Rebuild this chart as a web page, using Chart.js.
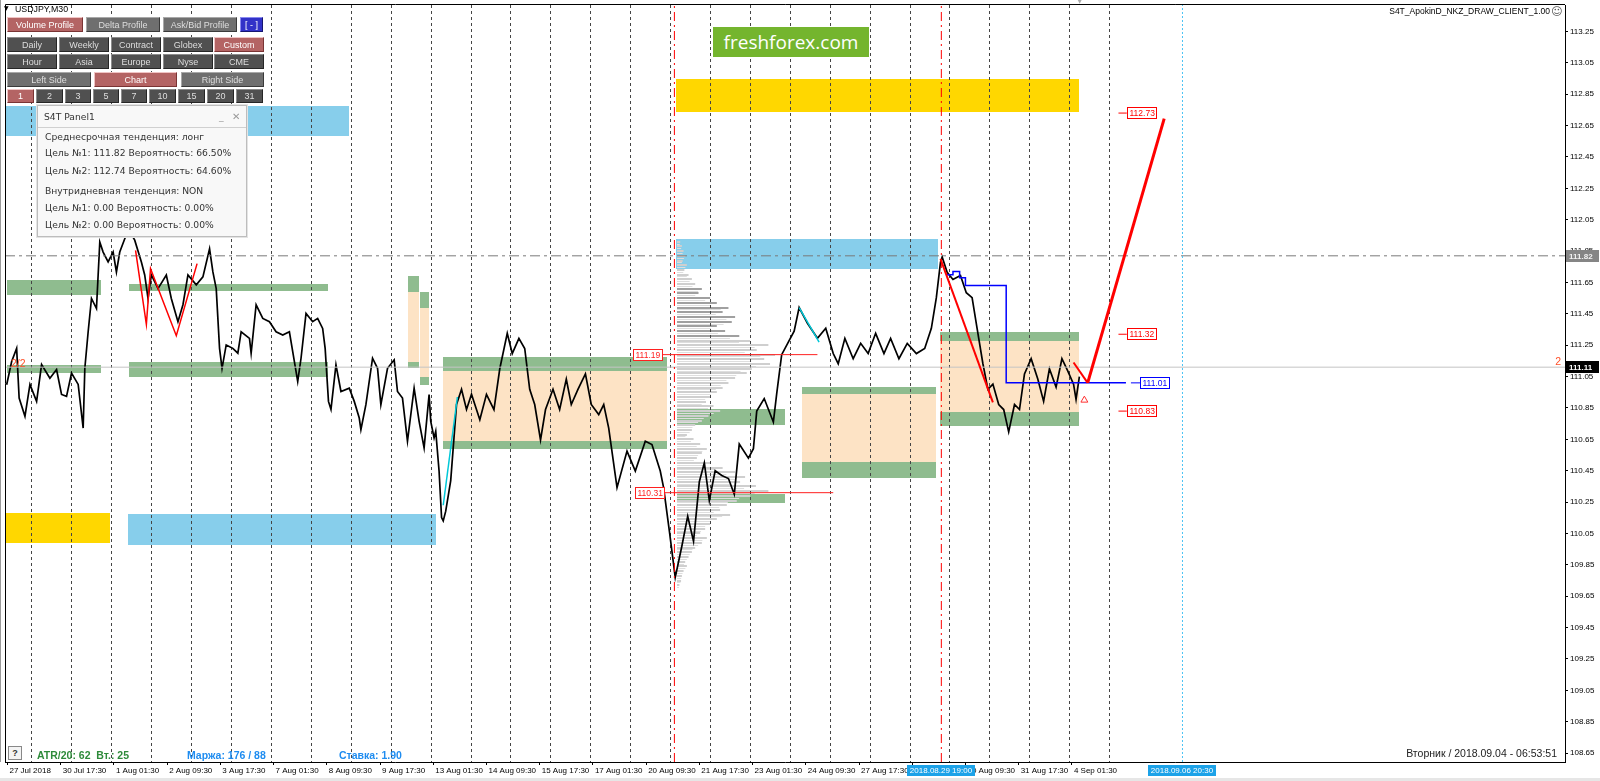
<!DOCTYPE html>
<html><head><meta charset="utf-8">
<script src="https://cdn.jsdelivr.net/npm/chart.js@4.4.1/dist/chart.umd.min.js"></script>
<style>
html,body{margin:0;padding:0;background:#fff;}
#wrap{position:relative;width:1600px;height:781px;overflow:hidden;background:#fff;}
canvas{position:absolute;left:0;top:0;}
.b{position:absolute;box-sizing:border-box;display:flex;align-items:center;justify-content:center;font:9px "Liberation Sans",Arial,sans-serif;color:#dedede;background:#505050;border:1px solid;border-color:#8c8c8c #262626 #262626 #8c8c8c;white-space:nowrap;}
.b.l{background:#6f6f6f;border-color:#a8a8a8 #3a3a3a #3a3a3a #a8a8a8;}
.b.p{background:#b46464;color:#fff;border-color:#f0c4c4 #7a3434 #7a3434 #f0c4c4;}
.b.u{background:#3232c8;color:#fff;border-color:#8a8af0 #161670 #161670 #8a8af0;}
#panel{position:absolute;left:37px;top:105px;width:210px;height:132px;box-sizing:border-box;background:#f8f8f8;border:1px solid #bdbdbd;box-shadow:0 0 0 1px #e4e4e4;font:9.2px "DejaVu Sans",sans-serif;color:#333;}
#panel .t{position:absolute;left:0;top:0;width:100%;height:21px;border-bottom:1px solid #d0d0d0;}
#panel div.ln{position:absolute;left:7px;height:12px;line-height:12px;white-space:nowrap;}
.txt{position:absolute;white-space:nowrap;line-height:12px;}
</style></head><body>
<div id="wrap">
<canvas id="c" width="1600" height="781"></canvas>

<div class="txt" style="left:4px;top:4px;font:6px 'DejaVu Sans';color:#000;">▼</div>
<div class="txt" style="left:15px;top:4px;font:8.8px 'Liberation Sans';color:#000;">USDJPY,M30</div>

<div class="b p" style="left:7px;top:17px;width:76px;height:15px;">Volume Profile</div>
<div class="b l" style="left:86px;top:17px;width:74px;height:15px;">Delta Profile</div>
<div class="b l" style="left:163px;top:17px;width:74px;height:15px;">Ask/Bid Profile</div>
<div class="b u" style="left:240px;top:17px;width:23px;height:15px;">[ - ]</div>

<div class="b" style="left:7px;top:37px;width:50px;height:15px;">Daily</div>
<div class="b" style="left:59px;top:37px;width:50px;height:15px;">Weekly</div>
<div class="b" style="left:111px;top:37px;width:50px;height:15px;">Contract</div>
<div class="b" style="left:163px;top:37px;width:50px;height:15px;">Globex</div>
<div class="b p" style="left:214px;top:37px;width:50px;height:15px;">Custom</div>

<div class="b" style="left:7px;top:54px;width:50px;height:15px;">Hour</div>
<div class="b" style="left:59px;top:54px;width:50px;height:15px;">Asia</div>
<div class="b" style="left:111px;top:54px;width:50px;height:15px;">Europe</div>
<div class="b" style="left:163px;top:54px;width:50px;height:15px;">Nyse</div>
<div class="b" style="left:214px;top:54px;width:50px;height:15px;">CME</div>

<div class="b l" style="left:7px;top:72px;width:84px;height:15px;">Left Side</div>
<div class="b p" style="left:94px;top:72px;width:83px;height:15px;">Chart</div>
<div class="b l" style="left:181px;top:72px;width:83px;height:15px;">Right Side</div>

<div class="b p" style="left:7px;top:89px;width:27px;height:14px;">1</div>
<div class="b" style="left:36px;top:89px;width:27px;height:14px;">2</div>
<div class="b" style="left:65px;top:89px;width:26px;height:14px;">3</div>
<div class="b" style="left:93px;top:89px;width:26px;height:14px;">5</div>
<div class="b" style="left:121px;top:89px;width:26px;height:14px;">7</div>
<div class="b" style="left:149px;top:89px;width:27px;height:14px;">10</div>
<div class="b" style="left:178px;top:89px;width:27px;height:14px;">15</div>
<div class="b" style="left:207px;top:89px;width:27px;height:14px;">20</div>
<div class="b" style="left:236px;top:89px;width:27px;height:14px;">31</div>

<div id="panel">
  <div class="t"></div>
  <div class="ln" style="top:5px;left:6px;">S4T Panel1</div>
  <div class="ln" style="top:5px;left:181px;color:#999;">_</div>
  <div class="ln" style="top:5px;left:194px;color:#999;font-size:10px;">✕</div>
  <div class="ln" style="top:25px;">Среднесрочная тенденция: лонг</div>
  <div class="ln" style="top:41px;">Цель №1: 111.82 Вероятность: 66.50%</div>
  <div class="ln" style="top:59px;">Цель №2: 112.74 Вероятность: 64.60%</div>
  <div class="ln" style="top:79px;">Внутридневная тенденция: NON</div>
  <div class="ln" style="top:96px;">Цель №1: 0.00 Вероятность: 0.00%</div>
  <div class="ln" style="top:113px;">Цель №2: 0.00 Вероятность: 0.00%</div>
</div>

<div class="txt" style="left:713px;top:27px;width:156px;height:30px;background:#74b52e;color:#fff;font:19px 'Open Sans',sans-serif;line-height:30px;text-align:center;">freshforex.com</div>

<div class="txt" style="left:1380px;top:6px;width:170px;text-align:right;font:8.5px 'Liberation Sans';color:#000;">S4T_ApokinD_NKZ_DRAW_CLIENT_1.00</div>
<div class="txt" style="left:1551px;top:5px;font:11px 'DejaVu Sans';color:#555;">☺</div>
<div class="txt" style="left:1077px;top:-3px;font:7px 'DejaVu Sans';color:#aaa;">▼</div>

<div class="txt" style="left:8px;top:746px;width:14px;height:14px;box-sizing:border-box;border:1px solid #888;background:#f4f4f4;font:bold 9px 'Liberation Sans';color:#333;text-align:center;line-height:12px;">?</div>
<div class="txt" style="left:37px;top:749px;font:bold 10.5px 'Liberation Sans';color:#2e8b3a;">ATR/20: 62&nbsp;&nbsp;Вт.: 25</div>
<div class="txt" style="left:187px;top:749px;font:bold 10.5px 'Liberation Sans';color:#1e8cf0;">Маржа: 176 / 88</div>
<div class="txt" style="left:339px;top:749px;font:bold 10.5px 'Liberation Sans';color:#1e8cf0;">Ставка: 1.90</div>
<div class="txt" style="left:1357px;top:747px;width:200px;text-align:right;font:10.5px 'Liberation Sans';color:#222;">Вторник&nbsp;/&nbsp;2018.09.04&nbsp;-&nbsp;06:53:51</div>
<div style="position:absolute;left:0;top:778px;width:1600px;height:3px;background:#e6e6e6;"></div>
</div>

<script>
// ---------------- DATA ----------------
const timeLabels = ['27 Jul 2018','30 Jul 17:30','1 Aug 01:30','2 Aug 09:30','3 Aug 17:30','7 Aug 01:30','8 Aug 09:30','9 Aug 17:30','13 Aug 01:30','14 Aug 09:30','15 Aug 17:30','17 Aug 01:30','20 Aug 09:30','21 Aug 17:30','23 Aug 01:30','24 Aug 09:30','27 Aug 17:30','29 Aug 01:30','30 Aug 09:30','31 Aug 17:30','4 Sep 01:30'];
const priceTicks = [108.65,108.85,109.05,109.25,109.45,109.65,109.85,110.05,110.25,110.45,110.65,110.85,111.05,111.25,111.45,111.65,111.85,112.05,112.25,112.45,112.65,112.85,113.05,113.25];

// USDJPY M30 close, [bar index, price]
const usdjpyClose = [[2,110.998],[8,111.146],[14,111.230],[17,110.913],[24,110.797],[30,111.000],[38,110.892],[44,111.127],[54,111.040],[62,111.095],[68,110.936],[74,110.924],[80,111.072],[88,111.000],[94,110.722],[96,111.103],[100,111.336],[104,111.548],[110,111.484],[114,111.908],[118,111.844],[124,111.781],[130,111.844],[134,111.717],[138,111.844],[144,111.929],[149,111.984],[156,111.920],[164,111.781],[168,111.698],[172,111.548],[176,111.698],[184,111.611],[194,111.698],[200,111.548],[208,111.400],[214,111.508],[220,111.698],[230,111.635],[238,111.686],[246,111.865],[250,111.717],[254,111.611],[258,111.230],[261,111.103],[266,111.252],[274,111.230],[280,111.199],[284,111.336],[294,111.294],[296,111.199],[302,111.508],[310,111.421],[318,111.400],[326,111.336],[334,111.315],[342,111.336],[346,111.209],[352,111.019],[356,111.167],[362,111.453],[370,111.400],[376,111.421],[382,111.357],[385,111.230],[389,110.892],[392,110.841],[398,111.125],[404,110.955],[414,110.976],[420,110.892],[426,110.786],[428,110.712],[434,110.871],[442,111.167],[448,111.103],[452,110.871],[460,111.103],[468,111.157],[472,110.955],[478,110.913],[484,110.638],[492,110.976],[498,110.765],[504,110.596],[510,110.935],[512,110.765],[516,110.659],[518,110.702],[522,110.448],[525,110.151],[527,110.130],[530,110.192],[536,110.387],[543,110.872],[549,110.969],[555,110.840],[561,110.937],[571,110.775],[579,110.937],[588,110.840],[595,111.100],[604,111.326],[610,111.197],[618,111.294],[625,111.229],[631,110.969],[637,110.872],[644,110.646],[650,110.840],[659,110.969],[667,110.840],[675,111.034],[681,110.872],[689,110.969],[698,111.067],[705,110.872],[714,110.808],[720,110.872],[726,110.722],[736,110.342],[748,110.575],[758,110.448],[770,110.638],[778,110.617],[788,110.448],[792,110.342],[799,110.063],[806,109.77],[814,109.97],[821,110.16],[828,110.00],[835,110.38],[841,110.50],[847,110.26],[854,110.45],[862,110.42],[870,110.40],[877,110.30],[883,110.62],[894,110.53],[900,110.59],[904,110.83],[913,110.91],[924,110.76],[928,110.94],[934,111.19],[942,111.27],[949,111.34],[955,111.49],[965,111.39],[977,111.294],[987,111.358],[996,111.197],[1002,111.132],[1010,111.294],[1020,111.164],[1029,111.262],[1038,111.197],[1047,111.326],[1057,111.197],[1065,111.294],[1075,111.164],[1085,111.262],[1096,111.197],[1106,111.229],[1114,111.358],[1120,111.553],[1125,111.78],[1127,111.812],[1133,111.715],[1140,111.669],[1149,111.695],[1156,111.585],[1163,111.553],[1169,111.358],[1176,111.132],[1182,110.969],[1188,111.002],[1195,110.872],[1201,110.840],[1207,110.698],[1214,110.872],[1220,110.840],[1226,111.067],[1234,111.164],[1242,111.034],[1249,110.892],[1256,111.100],[1264,110.983],[1271,111.164],[1278,111.086],[1285,111.002],[1288,110.905],[1292,111.05]];

// zones: [startBar, endBar, upperPrice, lowerPrice]
const blueZones   = [[0,414,112.778,112.587],[148,518,110.175,109.978],[807,1122,111.927,111.736]];
const yellowZones = [[0,126,110.181,109.990],[807,1292,112.946,112.740]];
const greenZones  = [[2,115,111.668,111.573],[2,115,111.125,111.072],[149,388,111.643,111.597],[149,388,111.146,111.050],
                     [485,498,111.690,111.590],[485,498,111.146,111.103],[499,510,111.590,111.489],[499,510,111.046,110.994],
                     [527,796,111.178,111.087],[527,796,110.642,110.591],[808,938,110.841,110.740],[808,938,110.300,110.245],
                     [958,1119,110.983,110.937],[958,1119,110.503,110.406],[1124,1292,111.333,111.274],[1124,1292,110.827,110.736]];
const peachZones  = [[485,498,111.590,111.146],[499,510,111.489,111.046],[527,796,111.087,110.642],[958,1119,110.937,110.503],[1124,1292,111.274,110.827]];

// volume profile (anchored at bar 808), levels from 111.91 downwards every 0.03, lengths in bars
const vpStartBar = 808, vpTopPrice = 111.91, vpStep = 0.03;
const vpLengths = [4,6,8,10,7,12,9,14,18,22,30,26,40,48,62,55,70,66,48,58,75,88,110,96,118,105,112,90,84,70,62,55,48,40,35,44,52,38,30,22,18,12,20,28,36,30,24,40,55,70,82,76,95,110,88,72,60,52,64,48,40,34,28,36,30,22,18,14,10,12,8,6,5,3];

const redZigzagLeft  = [[157,111.855],[170,111.383],[175,111.738],[206,111.311],[231,111.770]];
const redZigzagRight = [[1125,111.80],[1188,110.886]];
const redHook        = [[1285,111.14],[1302,111.01]];
const redProjection  = [[1302,111.01],[1394,112.695]];
const blueStep       = [[1132,111.70],[1140,111.70],[1140,111.72],[1148,111.72],[1148,111.68],[1155,111.68],[1155,111.63],[1204,111.63],[1204,111.01],[1348,111.01]];
const cyanSegments   = [[[527,110.23],[544,110.92]],[[955,111.49],[979,111.27]]];

const profileLevels  = [{price:111.19, from:790, to:977, text:'111.19'},{price:110.31, from:793, to:996, text:'110.31'}];
const targetLevels   = [{price:112.73, text:'112.73'},{price:111.32, text:'111.32'},{price:110.83, text:'110.83'}];
const targetBars     = [1339,1349];
const stopLevel      = {price:111.01, text:'111.01', bars:[1354,1365]};
const targetHigh     = 111.82;
const bidPrice       = 111.11;
const sessionLines   = [805,1126];
const futureLine     = 1416;
const markerLabels   = [{bar:1126, text:'2018.08.29 19:00'},{bar:1416, text:'2018.09.06 20:30'}];
const arrowMark      = [[1298,110.90]];

const xMin = 0, xMax = 1876, yMin = 108.593, yMax = 113.419;
const labelBarStart = 3, labelBarStep = 64;
const gridBarStart = 32.4, gridBarStep = 48, gridCount = 28;

// ---------------- CHART ----------------
Chart.defaults.font.family = '"Liberation Sans", Arial, sans-serif';
const pts = a => a.map(p => ({x:p[0], y:p[1]}));
const line = (data, color, width, dash, extra) => Object.assign({data:pts(data), borderColor:color, borderWidth:width, borderDash:dash||[], pointRadius:0, fill:false, tension:0}, extra||{});

const datasets = [];
datasets.push(line(redProjection,'#ff0000',3));
datasets.push(line(redHook,'#ff0000',2));
datasets.push(line(redZigzagRight,'#ff0000',2));
datasets.push(line(redZigzagLeft,'#ff0000',1.5));
datasets.push(line(blueStep,'#0000ff',1.5));
cyanSegments.forEach(s => datasets.push(line(s,'#00c8d8',1.5)));
datasets.push({data:pts(arrowMark), showLine:false, pointStyle:'triangle', pointRadius:4, borderColor:'#ff3030', backgroundColor:'#fff', borderWidth:1});
targetLevels.forEach(l => datasets.push(line([[targetBars[0],l.price],[targetBars[1],l.price]],'#ff0000',1)));
datasets.push(line([[stopLevel.bars[0],stopLevel.price],[stopLevel.bars[1],stopLevel.price]],'#0000ff',1));
profileLevels.forEach(l => datasets.push(line([[l.from,l.price],[l.to,l.price]],'#ff2020',1)));
sessionLines.forEach(b => datasets.push(line([[b,yMin],[b,yMax]],'#ff0000',1,[9,4,2,4])));
datasets.push(line([[futureLine,yMin],[futureLine,yMax]],'#4cc4f4',1,[2,2]));
datasets.push(line([[xMin,targetHigh],[xMax,targetHigh]],'#7a7a7a',1,[10,4,3,4]));
datasets.push(line([[xMin,bidPrice],[xMax,bidPrice]],'#c4c4c4',1));
datasets.push(line(usdjpyClose,'#000000',1.7));

const zeroPad = s => { s.paddingTop = 0; s.paddingBottom = 0; s.paddingLeft = 0; s.paddingRight = 0; };

const zonesPlugin = {
  id:'zones',
  beforeDraw(chart){
    const {ctx, chartArea:a, scales:{x,y}} = chart;
    ctx.save();
    ctx.beginPath(); ctx.rect(a.left,a.top,a.right-a.left,a.bottom-a.top); ctx.clip();
    const fillZones = (arr,color) => { ctx.fillStyle = color; arr.forEach(([b1,b2,p1,p2]) => {
      const X1 = Math.round(x.getPixelForValue(b1)), X2 = Math.round(x.getPixelForValue(b2));
      const Y1 = Math.round(y.getPixelForValue(p1)), Y2 = Math.round(y.getPixelForValue(p2));
      ctx.fillRect(X1,Y1,X2-X1,Y2-Y1); }); };
    fillZones(blueZones,'#87ceeb');
    fillZones(yellowZones,'#ffd700');
    fillZones(peachZones,'#fde3c5');
    fillZones(greenZones,'#8fbc8f');
    // volume profile
    const x0 = Math.round(x.getPixelForValue(vpStartBar));
    vpLengths.forEach((len,i) => {
      const p = vpTopPrice - vpStep*i;
      const yc = y.getPixelForValue(p);
      const w = x.getPixelForValue(vpStartBar+len) - x0;
      ctx.fillStyle = (p > 111.29 && p < 111.63) ? '#a0a0a0' : '#cfcfcf';
      ctx.fillRect(x0, Math.round(yc-1), w, 2);
      const yc2 = y.getPixelForValue(p - vpStep/2);
      ctx.fillStyle = '#dedede';
      ctx.fillRect(x0, Math.round(yc2-0.5), w*0.85, 1);
    });
    ctx.restore();
  },
  afterDraw(chart){
    const {ctx, chartArea:a, scales:{x,y}} = chart;
    ctx.save();
    // frame
    ctx.strokeStyle = '#000'; ctx.lineWidth = 1;
    ctx.beginPath(); ctx.moveTo(a.left+0.5,a.bottom); ctx.lineTo(a.left+0.5,a.top-0.5); ctx.lineTo(a.right,a.top-0.5); ctx.stroke();
    ctx.strokeStyle = '#9a9a9a';
    ctx.beginPath(); ctx.moveTo(0.5,0); ctx.lineTo(0.5,a.bottom); ctx.stroke();

    ctx.font = '8.5px "Liberation Sans"'; ctx.textBaseline = 'middle'; ctx.textAlign = 'left';
    const box = (xl, price, txt, col) => {
      const yc = Math.round(y.getPixelForValue(price));
      const w = Math.round(ctx.measureText(txt).width + 4);
      ctx.fillStyle = '#fff'; ctx.fillRect(xl, yc-6, w, 12);
      ctx.strokeStyle = col; ctx.lineWidth = 1; ctx.strokeRect(Math.round(xl)+0.5, yc-5.5, w, 11);
      ctx.fillStyle = col; ctx.fillText(txt, xl+2.5, yc+0.5);
      return w;
    };
    profileLevels.forEach(l => { const w = Math.round(ctx.measureText(l.text).width + 4); box(Math.round(x.getPixelForValue(l.from)) - w, l.price, l.text, '#ff2020'); });
    targetLevels.forEach(l => box(Math.round(x.getPixelForValue(targetBars[1])), l.price, l.text, '#ff0000'));
    box(Math.round(x.getPixelForValue(stopLevel.bars[1])), stopLevel.price, stopLevel.text, '#0000ff');

    // price markers on the axis
    ctx.font = 'bold 8px "Liberation Sans"';
    const axBox = (price, txt, bg, fg) => {
      const yc = Math.round(y.getPixelForValue(price));
      ctx.fillStyle = bg; ctx.fillRect(a.right+1, yc-6, 33, 12);
      ctx.fillStyle = fg; ctx.fillText(txt, a.right+4, yc+0.5);
    };
    axBox(targetHigh, targetHigh.toFixed(2), '#858585', '#f2f2f2');
    axBox(bidPrice, bidPrice.toFixed(2), '#000000', '#ffffff');

    // highlighted time labels
    ctx.font = '8px "Liberation Sans"'; ctx.textAlign = 'center';
    markerLabels.forEach(m => {
      const xc = Math.round(x.getPixelForValue(m.bar));
      const w = Math.round(ctx.measureText(m.text).width + 6);
      ctx.fillStyle = '#1ca2e8'; ctx.fillRect(xc - w/2, a.bottom+3, w, 11);
      ctx.fillStyle = '#fff'; ctx.fillText(m.text, xc, a.bottom+9);
    });

    // small index labels
    ctx.font = '10.5px "Liberation Sans"'; ctx.fillStyle = '#ff5028'; ctx.textAlign = 'left';
    const yIdx = y.getPixelForValue(111.13);
    ctx.fillText('2/2', a.left+6, yIdx);
    ctx.textAlign = 'right';
    ctx.fillText('2', a.right-4, yIdx-2);
    ctx.restore();
  }
};

new Chart(document.getElementById('c'), {
  type:'line',
  data:{datasets},
  options:{
    responsive:false, animation:false, devicePixelRatio:1, events:[],
    layout:{padding:{left:2, top:2, right:0, bottom:0}},
    plugins:{legend:{display:false}, tooltip:{enabled:false}},
    scales:{
      x:{type:'linear', position:'bottom', min:xMin, max:xMax,
        afterBuildTicks: s => { s.ticks = timeLabels.map((t,i) => ({value: labelBarStart + labelBarStep*i})); },
        afterFit: s => { s.height = 19; zeroPad(s); },
        ticks:{autoSkip:false, maxRotation:0, minRotation:0, align:'start', padding:1, labelOffset:2, color:'#000', font:{size:8}, callback:(v,i) => timeLabels[i]},
        grid:{drawOnChartArea:false, drawTicks:true, tickLength:3, tickColor:'#000'},
        border:{display:true, color:'#000', width:1}},
      xg:{type:'linear', position:'top', min:xMin, max:xMax,
        afterBuildTicks: s => { const t=[]; for (let k=0;k<gridCount;k++) t.push({value: gridBarStart + gridBarStep*k}); s.ticks = t; },
        afterFit: s => { s.height = 0; zeroPad(s); },
        ticks:{display:false},
        grid:{drawOnChartArea:true, drawTicks:false, color:'#454545', lineWidth:1},
        border:{display:false, dash:[3,3]}},
      y:{type:'linear', position:'right', min:yMin, max:yMax,
        afterBuildTicks: s => { s.ticks = priceTicks.map(v => ({value:v})); },
        afterFit: s => { s.width = 35; zeroPad(s); },
        ticks:{color:'#000', font:{size:8}, padding:2, callback: v => Number(v).toFixed(2)},
        grid:{drawOnChartArea:false, drawTicks:true, tickLength:3, tickColor:'#000'},
        border:{display:true, color:'#000', width:1}}
    }
  },
  plugins:[zonesPlugin]
});
</script>
</body></html>
